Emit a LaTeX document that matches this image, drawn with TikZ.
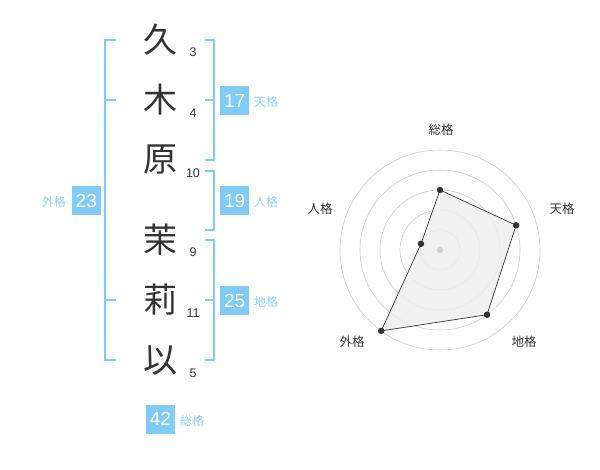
\documentclass[tikz,border=0pt]{standalone}
\usepackage{fontspec}
\newfontfamily\cjk{Noto Sans CJK JP}
\newfontfamily\lat{Liberation Sans}
\definecolor{brk}{HTML}{7FCBF7}
\definecolor{boxc}{HTML}{80CBF7}
\definecolor{lbl}{HTML}{8FD0F5}
\definecolor{ink}{HTML}{333333}
\definecolor{ring}{HTML}{CCCCCC}
\definecolor{area}{HTML}{EEEEEE}
\tikzset{
  kanji/.style={font=\cjk\fontsize{34}{34}\selectfont, text=ink, inner sep=0pt},
  strokes/.style={font=\lat\fontsize{12.5}{12.5}\selectfont, text=ink, inner sep=0pt},
  numbox/.style={fill=boxc, text=white, minimum width=29pt, minimum height=29pt, inner sep=0pt, font=\lat\fontsize{19}{19}\selectfont},
  kaku/.style={font=\cjk\fontsize{12}{12}\selectfont, text=lbl, inner sep=0pt},
  bracket/.style={draw=brk, line width=2pt},
  radlbl/.style={font=\cjk\fontsize{12.5}{12.5}\selectfont, text=ink, inner sep=0pt},
  ringc/.style={draw=ring, line width=0.6pt},
  dot/.style={circle, fill=ink, inner sep=0pt, minimum size=6.5pt},
}
\begin{document}
\begin{tikzpicture}[x=1pt,y=-1pt]
\useasboundingbox (0,0) rectangle (600,470);
% characters
\node[kanji] (k1) at (160,40) {久};
\node[kanji] (k2) at (160,100) {木};
\node[kanji] (k3) at (160,160) {原};
\node[kanji] (k4) at (160,240) {茉};
\node[kanji] (k5) at (160,300) {莉};
\node[kanji] (k6) at (160,360) {以};
% stroke counts
\node[strokes] (s1) at (193,52) {3};
\node[strokes] (s2) at (193,113) {4};
\node[strokes] (s3) at (193,173) {10};
\node[strokes] (s4) at (193,252) {9};
\node[strokes] (s5) at (193,313) {11};
\node[strokes] (s6) at (193,373) {5};
% left bracket
\draw[bracket] (116,40) -- (105,40) -- (105,360) -- (116,360);
\draw[bracket] (105,100) -- (116,100);
\draw[bracket] (105,300) -- (116,300);
% right brackets
\draw[bracket] (205,40) -- (214,40) -- (214,160) -- (205,160);
\draw[bracket] (205,100) -- (214,100);
\draw[bracket] (205,171) -- (214,171) -- (214,230) -- (205,230);
\draw[bracket] (205,240) -- (214,240) -- (214,360) -- (205,360);
\draw[bracket] (205,300) -- (214,300);
% number boxes
\node[numbox] (b17) at (234.7,100.5) {17};
\node[kaku, anchor=west] (l17) at (254,102) {天格};
\node[numbox] (b19) at (234.7,200.5) {19};
\node[kaku, anchor=west] (l19) at (254,202) {人格};
\node[numbox] (b25) at (234.7,300.5) {25};
\node[kaku, anchor=west] (l25) at (254,302) {地格};
\node[numbox] (b23) at (86.3,200.5) {23};
\node[kaku, anchor=east] (l23) at (66,202) {外格};
\node[numbox] (b42) at (160.5,419) {42};
\node[kaku, anchor=west] (l42) at (180,421) {総格};
% radar
\coordinate (c) at (440,250);
\foreach \r in {20,40,60,80,100} \draw[ringc] (c) circle (\r pt);
\path (c) ++(0,-60) coordinate (pSo);
\path (c) ++({80*cos(18)},{-80*sin(18)}) coordinate (pT);
\path (c) ++({80*cos(54)},{80*sin(54)}) coordinate (pC);
\path (c) ++({-100*cos(54)},{100*sin(54)}) coordinate (pG);
\path (c) ++({-20*cos(18)},{-20*sin(18)}) coordinate (pJ);
\draw[fill=area, fill opacity=0.8, draw=ink, line width=0.7pt] (pSo) -- (pT) -- (pC) -- (pG) -- (pJ) -- cycle;
\fill[ring] (c) circle (3pt);
\foreach \p in {pSo,pT,pC,pG,pJ} \node[dot] at (\p) {};
\node[radlbl] (r1) at (441,130) {総格};
\node[radlbl] (r2) at (562,209) {天格};
\node[radlbl] (r3) at (524,342) {地格};
\node[radlbl] (r4) at (352,342) {外格};
\node[radlbl] (r5) at (320,209) {人格};
\end{tikzpicture}
\end{document}
